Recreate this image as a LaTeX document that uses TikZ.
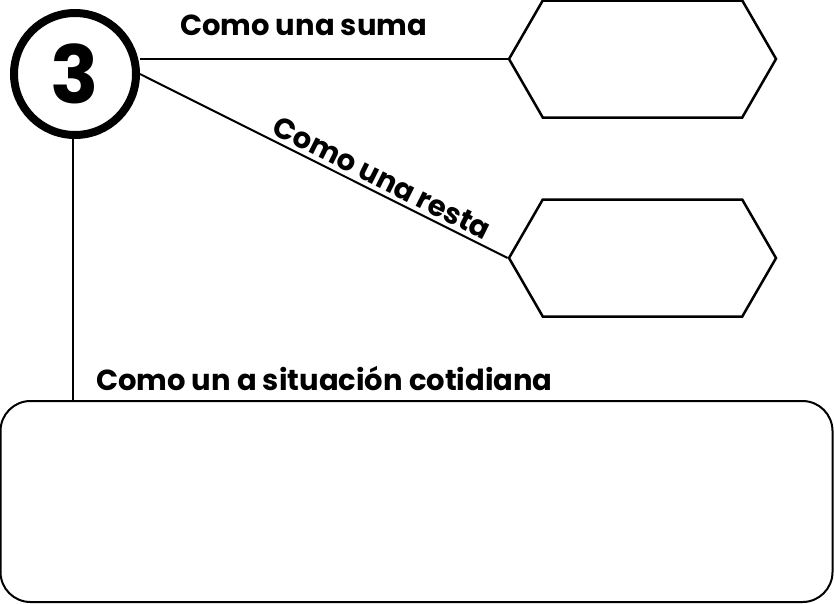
\documentclass[tikz,border=0pt]{standalone}
\usepackage{fontspec}
\setmainfont{Poppins}
\usetikzlibrary{shapes.symbols}

\begin{document}
\begin{tikzpicture}[x=1pt,y=-1pt,
  line width=2pt,
  lbl/.style={font=\fontsize{29}{32}\selectfont\bfseries,inner sep=0pt},
  hexa/.style={draw,line width=2.5pt,shape=signal,signal to=west and east,
    signal pointer angle=120,minimum width=267pt,minimum height=117pt,inner sep=0pt}]
\useasboundingbox (0,0) rectangle (834,603);
\node (num) [draw,circle,line width=8pt,minimum size=122pt,inner sep=0pt,
  font=\fontsize{80}{82}\selectfont\bfseries] at (75,74) {3};
\node (suma) [hexa] at (642.5,59) {};
\node (resta) [hexa] at (642.5,258) {};
\node (caja) [draw,rectangle,rounded corners=30pt,minimum width=832pt,
  minimum height=201pt,inner sep=0pt] at (416.5,501.5) {};
%
\node (tsuma) [lbl,anchor=base] at (303.5,35) {Como una suma};
\node (tdia) [lbl,anchor=base west] at (95,390) {Como un a situación cotidiana};
%
\draw (suma.west) -- (suma.west -| num.east);
\draw (num.east) -- node[lbl,sloped,above=4pt,pos=0.64] (tresta) {Como una resta} (resta.west);
\draw (num.south -| 73,0) -- (caja.north -| 73,0);
\end{tikzpicture}
\end{document}
